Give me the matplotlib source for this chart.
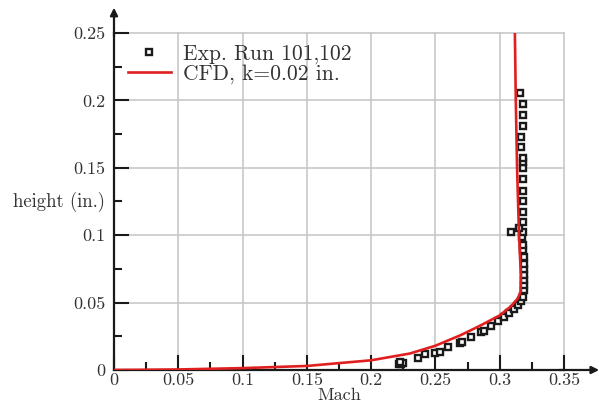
import matplotlib
matplotlib.use("Agg")
import matplotlib.pyplot as plt
from matplotlib.ticker import FixedLocator, FixedFormatter, MultipleLocator

plt.rcParams['font.family'] = 'serif'
plt.rcParams['font.serif'] = ['cmr10', 'DejaVu Serif']
plt.rcParams['mathtext.fontset'] = 'cm'
plt.rcParams['axes.unicode_minus'] = False

# Experimental data (Mach, height in.)
exp_mach = [0.2215, 0.2235, 0.2245, 0.2225, 0.2364, 0.2416, 0.2497, 0.2536, 0.2600,
            0.2690, 0.2705, 0.2775, 0.2855, 0.2875, 0.2935, 0.2985, 0.3035, 0.3075,
            0.3110, 0.3140, 0.3165, 0.3180, 0.3185, 0.3190, 0.3190, 0.3190, 0.3190,
            0.3185, 0.3185, 0.3178, 0.3178, 0.3172, 0.3178, 0.3150, 0.3087, 0.3178,
            0.3178, 0.3178, 0.3178, 0.3183, 0.3178, 0.3178, 0.3178, 0.3167, 0.3167,
            0.3178, 0.3178, 0.3178, 0.3157]
exp_height = [0.0045, 0.0045, 0.0055, 0.0060, 0.0087, 0.0116, 0.0129, 0.0132, 0.0168,
              0.0200, 0.0210, 0.0247, 0.0280, 0.0290, 0.0330, 0.0365, 0.0395, 0.0425,
              0.0450, 0.0480, 0.0510, 0.0545, 0.0590, 0.0630, 0.0668, 0.0705, 0.0747,
              0.0790, 0.0840, 0.0890, 0.0927, 0.0989, 0.1026, 0.1050, 0.1026, 0.1100,
              0.1174, 0.1254, 0.1328, 0.1417, 0.1500, 0.1540, 0.1575, 0.1652, 0.1731,
              0.1812, 0.1892, 0.1971, 0.2053]

# CFD profile
cfd_mach = [0.0, 0.05, 0.10, 0.15, 0.20, 0.23, 0.25, 0.27, 0.285, 0.30, 0.309, 0.314,
            0.3162, 0.3165, 0.315, 0.3135, 0.3125, 0.3118]
cfd_height = [0.0, 0.0004, 0.0014, 0.0030, 0.0072, 0.0122, 0.0180, 0.0260, 0.0330,
              0.0405, 0.0475, 0.0530, 0.0580, 0.07, 0.10, 0.15, 0.20, 0.25]

xticks = [0, 0.05, 0.1, 0.15, 0.2, 0.25, 0.3, 0.35]
xticklabels = ['0', '0.05', '0.1', '0.15', '0.2', '0.25', '0.3', '0.35']
yticks = [0, 0.05, 0.1, 0.15, 0.2, 0.25]
yticklabels = ['0', '0.05', '0.1', '0.15', '0.2', '0.25']

fig = plt.figure(figsize=(5.99, 4.05), dpi=100)
ax = fig.add_axes([114/599, 35/405, 450/599, 337/405])

ax.plot(exp_mach, exp_height, linestyle='none', marker='s', markersize=4.4,
        markerfacecolor='white', markeredgecolor='#1a1a1a', markeredgewidth=1.7,
        label='Exp. Run 101,102', zorder=3)
ax.plot(cfd_mach, cfd_height, color='#e02020', linewidth=1.9,
        label='CFD, k=0.02 in.', zorder=4)

ax.set_xlim(0, 0.35)
ax.set_ylim(0, 0.25)
ax.xaxis.set_major_locator(FixedLocator(xticks))
ax.xaxis.set_major_formatter(FixedFormatter(xticklabels))
ax.yaxis.set_major_locator(FixedLocator(yticks))
ax.yaxis.set_major_formatter(FixedFormatter(yticklabels))
ax.xaxis.set_minor_locator(MultipleLocator(0.025))
ax.yaxis.set_minor_locator(MultipleLocator(0.025))

ax.grid(True, which='major', color='#c8c8c8', linewidth=1.2, zorder=0)
for gl in ax.get_xgridlines() + ax.get_ygridlines():
    gl.set_clip_on(False)
ax.set_axisbelow(True)

ax.tick_params(which='major', direction='in', length=11, width=1.5, color='#1a1a1a',
               labelsize=13, labelcolor='#333333')
ax.tick_params(which='minor', direction='in', length=6, width=1.5, color='#1a1a1a')
ax.tick_params(axis='x', which='major', pad=2)
ax.tick_params(axis='y', which='major', pad=6)

for s in ['top', 'right']:
    ax.spines[s].set_visible(False)
for s in ['left', 'bottom']:
    ax.spines[s].set_linewidth(1.6)
    ax.spines[s].set_color('#1a1a1a')

# axis arrows
ax.annotate('', xy=(1.078, 0), xytext=(0.99, 0), xycoords='axes fraction',
            arrowprops=dict(arrowstyle='-|>', color='#1a1a1a', lw=1.6,
                            shrinkA=0, shrinkB=0, mutation_scale=11))
ax.annotate('', xy=(0, 1.075), xytext=(0, 0.99), xycoords='axes fraction',
            arrowprops=dict(arrowstyle='-|>', color='#1a1a1a', lw=1.6,
                            shrinkA=0, shrinkB=0, mutation_scale=11))

ax.set_xlabel('Mach', fontsize=13, labelpad=0, color='#333333')
ax.set_ylabel('height (in.)', fontsize=13.5, rotation=0, ha='right', va='center',
              color='#333333')
ax.yaxis.set_label_coords(-0.02, 0.50)

leg = ax.legend(loc='upper left', bbox_to_anchor=(0.03, 0.968), frameon=False,
                fontsize=15.5, handlelength=2.0, handletextpad=0.6,
                labelspacing=0.0, borderpad=0, borderaxespad=0, markerscale=1.0)
for t in leg.get_texts():
    t.set_color('#333333')

fig.savefig('out.png', dpi=100)
